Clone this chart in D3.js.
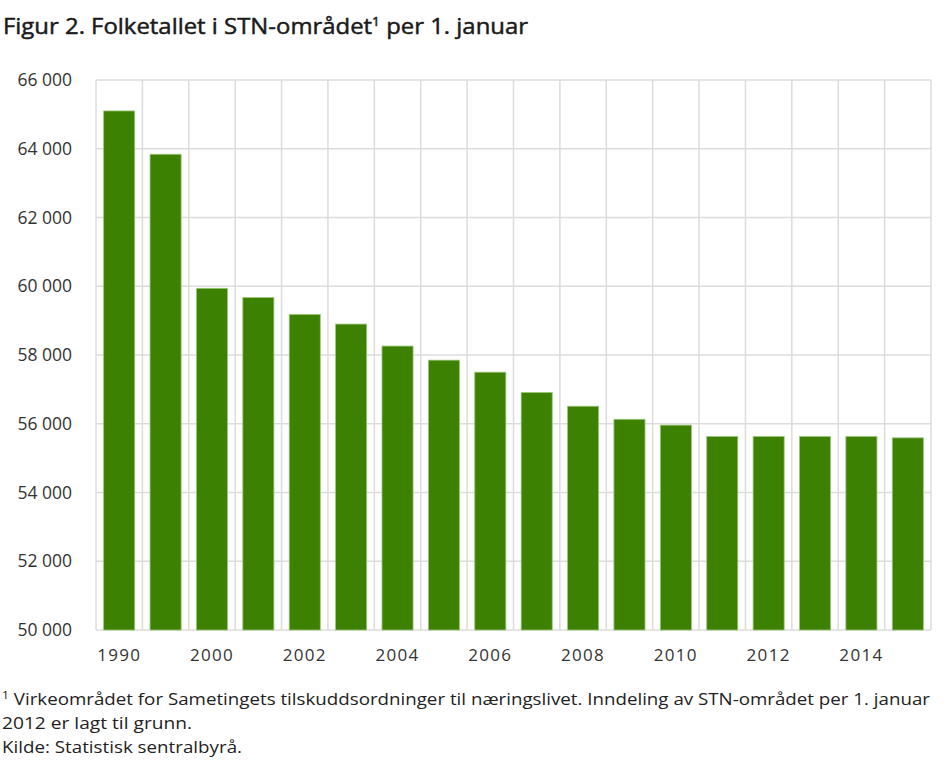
<!DOCTYPE html>
<html><head><meta charset="utf-8">
<script src="https://cdn.jsdelivr.net/npm/d3@7"></script>
<style>
body{margin:0;background:#fff;}
text{font-family:"Open Sans",sans-serif;}
</style></head>
<body><svg id="c" width="950" height="762"></svg>
<script>
const years = ["1990","1999","2000","2001","2002","2003","2004","2005","2006","2007","2008","2009","2010","2011","2012","2013","2014","2015"];
const population = [65100,63840,59940,59670,59180,58900,58260,57850,57500,56910,56510,56130,55960,55630,55630,55630,55630,55590];
const yTicks = [50000,52000,54000,56000,58000,60000,62000,64000,66000];
const xLabelYears = ["1990","2000","2002","2004","2006","2008","2010","2012","2014"];

const svg = d3.select("#c");
const m = {l:96, r:19, t:80, b:132};
const W = 950, H = 762;
const x = d3.scaleBand().domain(years).range([m.l, W-m.r]).paddingInner(0.33).paddingOuter(0.165);
const y = d3.scaleLinear().domain([50000,66000]).range([H-m.b, m.t]);
const fmt = v => d3.format(",")(v).replace(/,/g," ");

// horizontal grid
svg.append("g").selectAll("line").data(yTicks).join("line")
  .attr("x1", m.l).attr("x2", W-m.r)
  .attr("y1", d=>y(d)).attr("y2", d=>y(d))
  .attr("stroke","#dcdcdc").attr("stroke-width",1.5);
// vertical grid at band boundaries
const bounds = d3.range(years.length+1).map(i => m.l + i*(W-m.r-m.l)/years.length);
svg.append("g").selectAll("line").data(bounds).join("line")
  .attr("x1", d=>d).attr("x2", d=>d)
  .attr("y1", m.t).attr("y2", H-m.b)
  .attr("stroke","#dcdcdc").attr("stroke-width",1.5);

// bars
svg.append("g").selectAll("rect").data(population).join("rect")
  .attr("x",(d,i)=>x(years[i])).attr("width",x.bandwidth())
  .attr("y",d=>y(d)).attr("height",d=>y(50000)-y(d))
  .attr("fill","#3d8102").attr("stroke","#9cc67a").attr("stroke-width",0.8);

// y axis
const ya = svg.append("g").attr("transform",`translate(${m.l-24},0)`)
  .call(d3.axisLeft(y).tickValues(yTicks).tickFormat(fmt).tickSize(0).tickPadding(0));
ya.select(".domain").remove();
ya.selectAll("text").attr("font-size","17.5px").attr("fill","#333").attr("font-family","Open Sans").attr("text-anchor","end");

// x axis
const xa = svg.append("g").attr("transform",`translate(0,${H-m.b})`)
  .call(d3.axisBottom(x).tickValues(xLabelYears).tickSize(0).tickPadding(19));
xa.select(".domain").remove();
xa.selectAll("text").attr("font-size","17px").attr("fill","#333").attr("font-family","Open Sans").attr("letter-spacing","1.3px");

// title
const t = svg.append("text").attr("x",3).attr("y",34).attr("font-size","21px").attr("fill","#1a1a1a")
  .attr("stroke","#1a1a1a").attr("stroke-width",0.45)
  .attr("font-family","Open Sans").attr("textLength",525).attr("lengthAdjust","spacingAndGlyphs");
t.append("tspan").text("Figur 2. Folketallet i STN-området");
t.append("tspan").attr("font-size","12px").attr("dy","-8").text("1");
t.append("tspan").attr("dy","8").text(" per 1. januar");

// footnotes
const f1 = svg.append("text").attr("x",2).attr("y",705).attr("font-size","15.5px").attr("fill","#222")
  .attr("textLength",928).attr("lengthAdjust","spacingAndGlyphs");
f1.append("tspan").attr("font-size","10px").attr("dy","-6").text("1");
f1.append("tspan").attr("dy","6").text(" Virkeområdet for Sametingets tilskuddsordninger til næringslivet. Inndeling  av STN-området per 1. januar");
svg.append("text").attr("x",2).attr("y",729).attr("font-size","15.5px").attr("fill","#222")
  .attr("textLength",190).attr("lengthAdjust","spacingAndGlyphs").text("2012 er  lagt til grunn.");
svg.append("text").attr("x",2).attr("y",753).attr("font-size","15.5px").attr("fill","#222")
  .attr("textLength",240).attr("lengthAdjust","spacingAndGlyphs").text("Kilde: Statistisk sentralbyrå.");
</script></body></html>
